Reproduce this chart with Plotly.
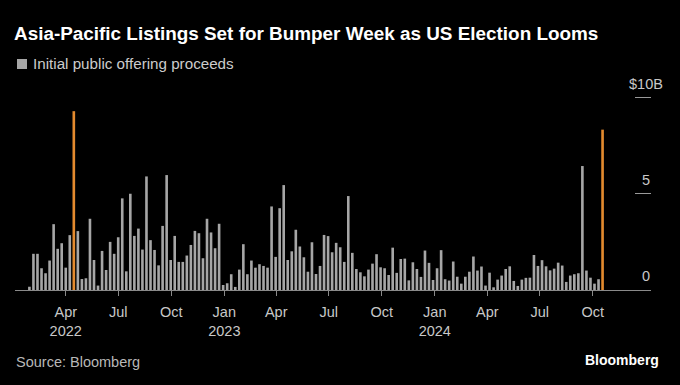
import pandas as pd
import plotly.graph_objects as go

# Weekly IPO proceeds in Asia-Pacific ($ billions), weeks ending Fridays
week_start = "2022-01-28"
week_count = 143
proceeds = [
    0.17, 1.88, 1.88, 1.13, 0.87, 1.53, 3.42, 2.14, 2.43, 1.16, 2.85, 9.29, 3.06, 0.57, 0.61, 3.70,
    1.56, 0.23, 2.03, 1.04, 2.50, 1.88, 2.74, 4.76, 0.97, 5.00, 2.81, 3.19, 2.10, 5.90, 2.59, 2.08,
    1.28, 3.33, 5.97, 1.56, 2.81, 1.46, 1.46, 1.79, 2.34, 3.07, 2.95, 1.65, 3.70, 2.99, 2.17, 3.44,
    0.26, 0.35,
    0.82, 0.16, 1.06, 2.38, 0.82, 1.53, 1.16, 1.34, 1.25, 1.16, 4.34, 1.72, 4.25, 5.45, 1.56, 2.01,
    3.13, 2.26, 1.70, 0.95, 2.48, 0.83, 1.25, 2.86, 2.80, 1.96, 2.45, 2.22, 1.46, 4.88, 1.93, 1.09,
    0.92, 0.71, 1.06, 1.37, 1.86, 1.18, 1.13, 0.78, 2.20, 0.89, 1.61, 1.63, 0.50, 1.44, 1.09, 0.68,
    2.05, 1.41, 0.52, 1.13, 2.07, 0.56, 0.49,
    1.48, 0.69, 0.33, 0.69, 0.95, 1.74, 1.01, 1.22, 0.23, 0.90, 0.14, 0.54, 0.75, 1.09, 1.23, 0.47,
    0.21, 0.54, 0.63, 0.64, 1.82, 1.25, 1.55, 1.23, 1.02, 1.11, 1.42, 1.27, 0.42, 0.75, 0.82, 0.87,
    6.44, 1.01, 0.64, 0.33, 0.56, 8.33,
]
highlight_weeks = ["2022-04-15", "2024-10-18"]
series_name = "Initial public offering proceeds"

x_tickvals = ["2022-04-01", "2022-07-01", "2022-10-01", "2023-01-01", "2023-04-01", "2023-07-01",
              "2023-10-01", "2024-01-01", "2024-04-01", "2024-07-01", "2024-10-01"]
x_ticktext = ["Apr<br>2022", "Jul", "Oct", "Jan<br>2023", "Apr", "Jul", "Oct", "Jan<br>2024",
              "Apr", "Jul", "Oct"]
y_tickvals = [0, 5, 10]
y_ticktext = ["0", "5", "$10B"]

GRAY = "#a6a6a6"
ORANGE = "#e38a2e"
FONT = "Liberation Sans"

W, H = 680, 385
L, R, T, B = 15, 29, 78, 95
PW, PH = W - L - R, H - T - B


def px_x(px):
    return (px - L) / PW


def px_y(py):
    return (H - B - py) / PH


weeks = pd.date_range(week_start, periods=week_count, freq="7D")
hl = set(pd.to_datetime(highlight_weeks))
colors = [ORANGE if d in hl else GRAY for d in weeks]

fig = go.Figure()
fig.add_trace(go.Bar(
    x=weeks, y=proceeds, marker=dict(color=colors, line=dict(width=0)),
    name=series_name, showlegend=False,
))

fig.update_layout(
    width=W, height=H,
    paper_bgcolor="#000000", plot_bgcolor="#000000",
    margin=dict(l=L, r=R, t=T, b=B),
    bargap=0.35,
    font=dict(family=FONT, color="#c8c8c8", size=14),
    title=dict(
        text="<b>Asia-Pacific Listings Set for Bumper Week as US Election Looms</b>",
        x=14 / W, xanchor="left", xref="container",
        y=1 - 33 / H, yanchor="middle", yref="container",
        font=dict(family=FONT, size=18.9, color="#ffffff"),
    ),
    xaxis=dict(
        type="date",
        range=["2022-01-03", "2025-01-10"],
        tickmode="array", tickvals=x_tickvals, ticktext=x_ticktext,
        ticks="outside", ticklen=5, tickcolor="#8a8a8a", tickwidth=1,
        ticklabelstandoff=4,
        showline=True, linecolor="#8a8a8a", linewidth=1,
        showgrid=False, zeroline=False,
        tickfont=dict(family=FONT, size=14.5, color="#c8c8c8"),
    ),
    yaxis=dict(
        range=[0, PH / 19.25], side="right",
        tickmode="array", tickvals=y_tickvals, showticklabels=False,
        ticks="inside", ticklen=16, tickcolor="#9a9a9a", tickwidth=1,
        showgrid=False, zeroline=False, showline=False,
    ),
)

for v, t in zip(y_tickvals, y_ticktext):
    fig.add_annotation(
        text=t, x=1, xref="paper", y=v, yref="y",
        xanchor="center", yanchor="middle", xshift=-5, yshift=14, showarrow=False,
        font=dict(family=FONT, size=14.5, color="#c8c8c8"),
    )

# legend key
fig.add_shape(type="rect", xref="paper", yref="paper",
              x0=px_x(17), x1=px_x(27), y0=px_y(69), y1=px_y(59),
              fillcolor=GRAY, line=dict(width=0))
fig.add_annotation(
    text=series_name, x=px_x(31), xref="paper", xanchor="left",
    y=px_y(64), yref="paper", yanchor="middle", showarrow=False,
    font=dict(family=FONT, size=15.2, color="#cccccc"),
)

fig.add_annotation(
    text="Source: Bloomberg", x=px_x(14), xref="paper", xanchor="left",
    y=px_y(362), yref="paper", yanchor="middle", showarrow=False,
    font=dict(family=FONT, size=14.5, color="#b8b8b8"),
)
fig.add_annotation(
    text="<b>Bloomberg</b>", x=px_x(661), xref="paper", xanchor="right",
    y=px_y(360), yref="paper", yanchor="middle", showarrow=False,
    font=dict(family=FONT, size=14, color="#ffffff"),
)

fig.write_html(
    "out.html",
    config={"displayModeBar": False},
    post_script="document.body.style.margin='0';document.body.style.overflow='hidden';",
)
